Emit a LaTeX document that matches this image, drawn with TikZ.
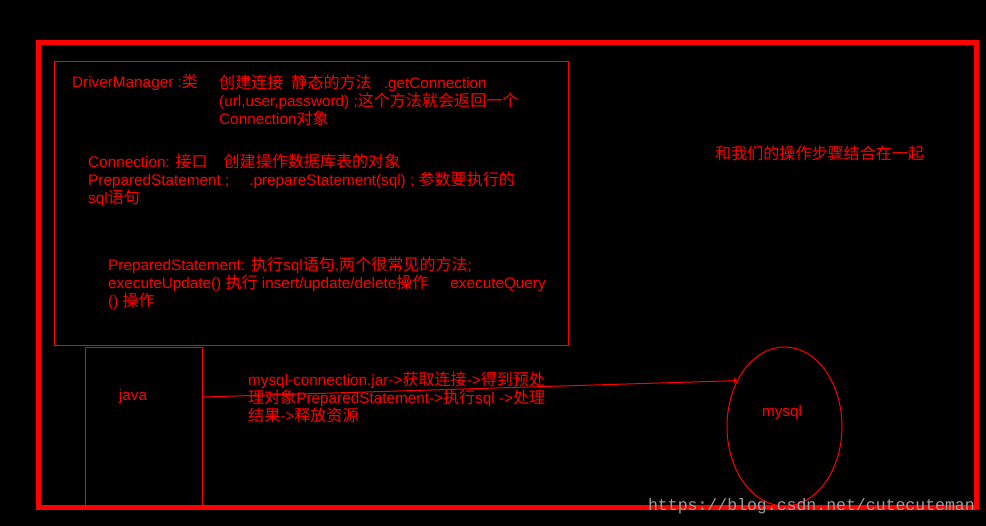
\documentclass[tikz,border=0pt]{standalone}
\usepackage{fontspec}
\setmainfont{Liberation Sans}
\newfontfamily\cjk[Scale=1.05]{Noto Sans CJK SC}
\newfontfamily\wmfont{Liberation Mono}
\newcommand\zh[1]{{\cjk #1}}
\definecolor{drawred}{RGB}{255,0,0}
\usetikzlibrary{shapes.geometric}
\tikzset{
  note/.style={anchor=north west, inner sep=0pt, align=left, text=drawred,
    font=\fontsize{15.3}{18}\selectfont},
  box/.style={draw=drawred, line width=1pt, rectangle, inner sep=0pt},
}

\begin{document}
\begin{tikzpicture}[x=1pt, y=-1pt]
  \fill[black] (0,0) rectangle (986,526);
  \useasboundingbox (0,0) rectangle (986,526);
  \draw[drawred, line width=5pt] (38,43) rectangle (976,508);
  % the JDBC classes
  \node[box, minimum width=514pt, minimum height=284pt] (api) at (311,204) {};
  \node[note] (dm) at (72,74) {DriverManager :\zh{类}};
  \node[note] (getconn) at (219,75) {\zh{创建连接}\hspace{8pt}\zh{静态的方法}\hspace{12pt}.getConnection\\
    (url,user,password) ;\zh{这个方法就会返回一个}\\
    Connection\zh{对象}};
  \node[note] (conn) at (88,154) {Connection: \zh{接口}\hspace{16pt}\zh{创建操作数据库表的对象}\\
    PreparedStatement ;\hspace{20pt}.prepareStatement(sql) ; \zh{参数要执行的}\\
    sql\zh{语句}};
  \node[note] (pstmt) at (108,257) {PreparedStatement:\hspace{6pt}\zh{执行}sql\zh{语句},\zh{两个很常见的方法};\\
    executeUpdate() \zh{执行} insert/update/delete\zh{操作}\hspace{22pt}executeQuery\\
    () \zh{操作}};
  % java and mysql
  \node[box, minimum width=117pt, minimum height=158pt] (javabox) at (143.5,427) {};
  \node[note, anchor=center] (java) at (133,397) {java};
  \node[draw=drawred, line width=1pt, ellipse, inner sep=0pt,
    minimum width=115pt, minimum height=159pt] (mysql) at (784.5,426.5) {};
  \node[note, anchor=center] (mysqllabel) at (782,413) {mysql};
  \draw[drawred, line width=1pt, ->] (java -| javabox.east) -- (mysql.136);
  \node[note] (steps) at (248,372) {mysql-connection.jar->\zh{获取连接}->\zh{得到预处}\\
    \zh{理对象}PreparedStatement->\zh{执行}sql ->\zh{处理}\\
    \zh{结果}->\zh{释放资源}};
  \node[note] (together) at (715,146) {\zh{和我们的操作步骤结合在一起}};
  \node[anchor=east, inner sep=0pt, text=gray!75, font=\wmfont\fontsize{16.5}{18}\selectfont]
    (wm) at (975,506) {https://blog.csdn.net/cutecuteman};
\end{tikzpicture}
\end{document}
